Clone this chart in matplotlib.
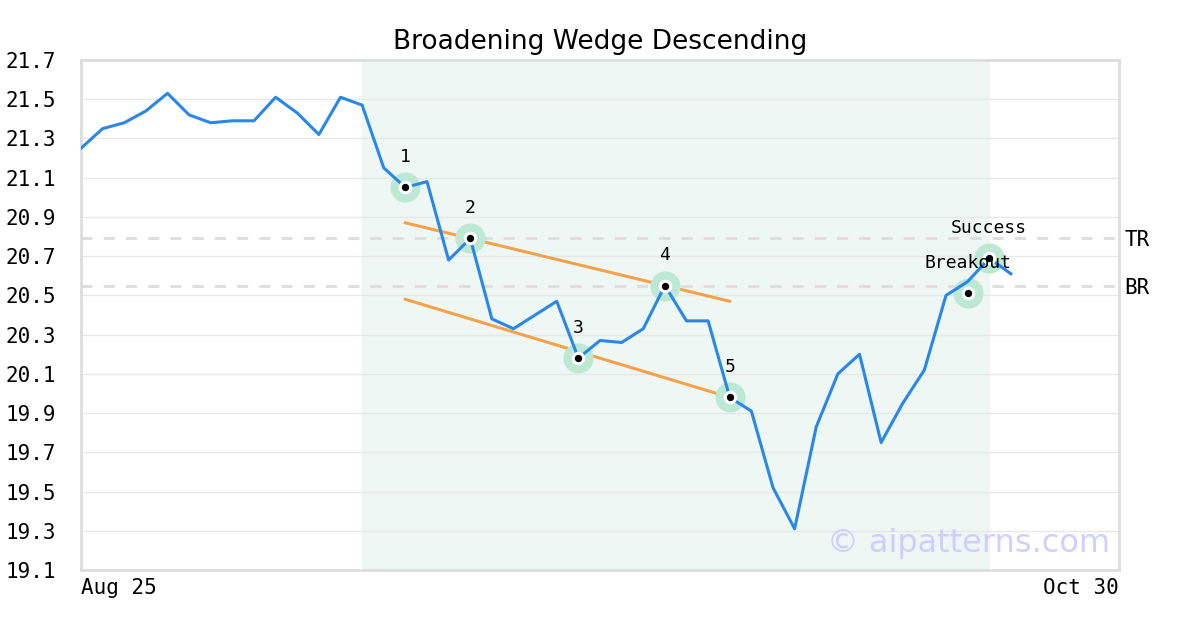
import matplotlib
matplotlib.use("Agg")
import matplotlib.pyplot as plt

# closing prices (trading days, Aug 25 onward)
closes = [21.25, 21.35, 21.38, 21.44, 21.53, 21.42, 21.38, 21.39, 21.39, 21.51,
          21.43, 21.32, 21.51, 21.47, 21.15, 21.05, 21.08, 20.68, 20.79, 20.38,
          20.33, 20.40, 20.47, 20.18, 20.27, 20.26, 20.33, 20.55, 20.37, 20.37,
          19.98, 19.91, 19.52, 19.31, 19.83, 20.10, 20.20, 19.75, 19.95, 20.12,
          20.50, 20.57, 20.69, 20.61]
x_labels = ["Aug 25", "Oct 30"]
x_label_pos = [0, 48]

pattern_idx = [15, 18, 23, 27, 30]
pattern_names = ["1", "2", "3", "4", "5"]

upper_idx = [15, 30]
upper_vals = [20.87, 20.47]
lower_idx = [15, 30]
lower_vals = [20.48, 19.98]

breakout_idx = 41
breakout_val = 20.51
success_idx = 42
success_val = 20.69

tr_level = 20.79
br_level = 20.55
shade_range = [13, 42]

mono = "DejaVu Sans Mono"

fig = plt.figure(figsize=(12, 6.3), dpi=100)
ax = fig.add_axes([0.0675, 0.0952, 0.865, 0.8096])

ax.axvspan(shade_range[0], shade_range[1], color="#eef7f3", zorder=0)
ax.axhline(tr_level, color="#dddddd", lw=2, ls=(0, (4, 4)), zorder=1)
ax.axhline(br_level, color="#dddddd", lw=2, ls=(0, (4, 4)), zorder=1)

ax.plot(range(len(closes)), closes, color="#2a87e8", lw=2.2, zorder=3)
ax.plot(upper_idx, upper_vals, color="#f7983a", lw=2.2, alpha=0.9, zorder=2)
ax.plot(lower_idx, lower_vals, color="#f7983a", lw=2.2, alpha=0.9, zorder=2)

# marker layers: green halo, white ring, black dot
pts_x = pattern_idx + [breakout_idx, success_idx]
pts_y = [closes[i] for i in pattern_idx] + [breakout_val, success_val]
ax.scatter(pts_x, pts_y, s=470, color="#bde8d4", zorder=2.5, linewidths=0)
ax.scatter(pts_x, pts_y, s=95, color="white", zorder=4, linewidths=0)
ax.scatter(pts_x, pts_y, s=28, color="black", zorder=5, linewidths=0)

for i, name in zip(pattern_idx, pattern_names):
    ax.annotate(name, (i, closes[i]), xytext=(0, 22), textcoords="offset points",
                ha="center", va="center", fontsize=13, family=mono, zorder=6)
ax.annotate("Breakout", (breakout_idx, breakout_val), xytext=(0, 22),
            textcoords="offset points", ha="center", va="center",
            fontsize=13, family=mono, zorder=6)
ax.annotate("Success", (success_idx, success_val), xytext=(0, 22),
            textcoords="offset points", ha="center", va="center",
            fontsize=13, family=mono, zorder=6)

ax.text(1.005, tr_level - 0.01, "TR", transform=ax.get_yaxis_transform(),
        va="center", ha="left", fontsize=15, family=mono)
ax.text(1.005, br_level - 0.01, "BR", transform=ax.get_yaxis_transform(),
        va="center", ha="left", fontsize=15, family=mono)

ax.text(0.9915, 0.052, "\u00a9 aipatterns.com", transform=ax.transAxes,
        ha="right", va="center", fontsize=23, color="#c8c8ff", alpha=0.85, zorder=7)

ax.set_xlim(0, 48)
ax.set_ylim(19.1, 21.7)
yt = [round(19.1 + 0.2 * k, 1) for k in range(14)]
ax.set_yticks(yt)
ax.set_yticklabels([f"{v:.1f}" for v in yt], family=mono, fontsize=15)
ax.set_xticks(x_label_pos)
ax.set_xticklabels(x_labels, family=mono, fontsize=15)
xl = ax.get_xticklabels()
xl[0].set_ha("left")
xl[1].set_ha("right")
ax.tick_params(axis="both", length=0)
ax.tick_params(axis="y", pad=18)
ax.tick_params(axis="x", pad=6)
ax.grid(axis="y", color="#e8e8e8", lw=1, zorder=0)
ax.set_axisbelow(True)
for s in ax.spines.values():
    s.set_color("#dddddd")
    s.set_linewidth(2)

ax.set_title("Broadening Wedge Descending", fontsize=19, pad=8)

fig.savefig("out.png", dpi=100)
